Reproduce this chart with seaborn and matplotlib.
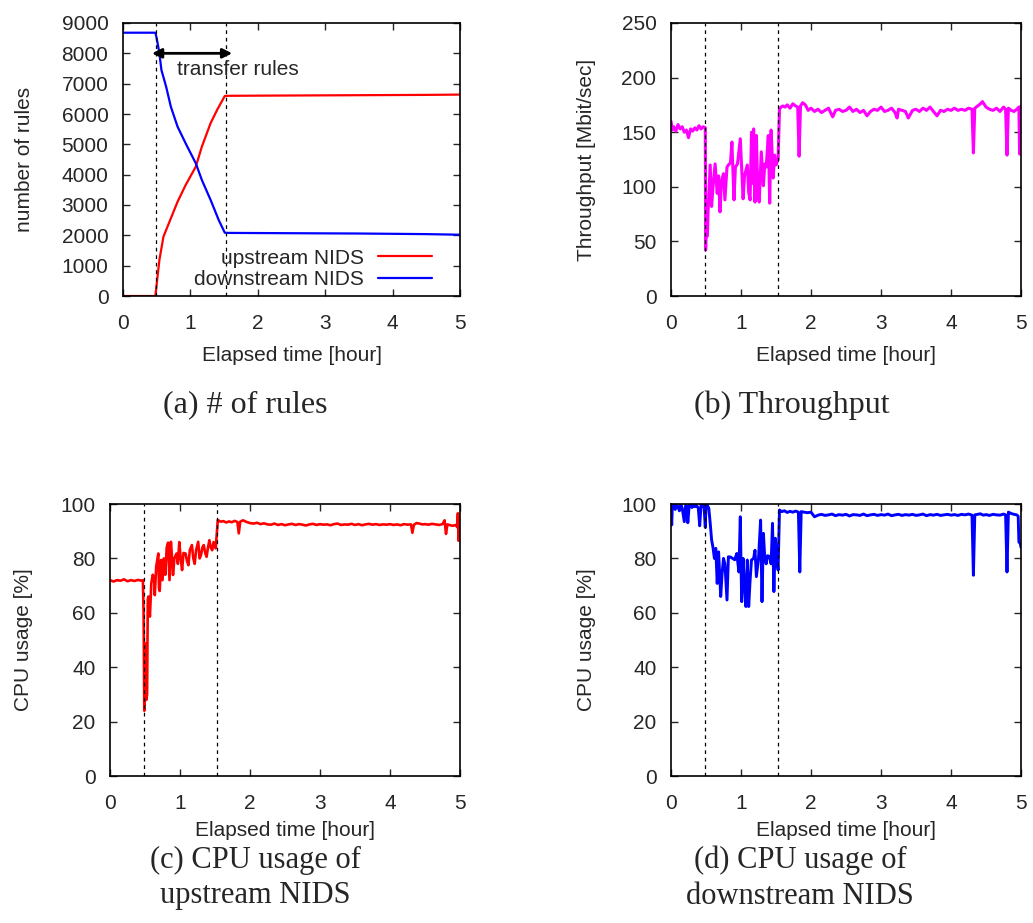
import numpy as np
import pandas as pd
import matplotlib
matplotlib.use('Agg')
import matplotlib.pyplot as plt
import seaborn as sns

# (a) number of rules
up_t = [0, 0.48, 0.54, 0.60, 0.70, 0.81, 0.93, 1.08, 1.17, 1.30, 1.40, 1.51, 1.55, 2.5, 3.5, 4.5, 5.0]
up_rules = [0, 0, 1187, 1955, 2505, 3110, 3660, 4263, 4923, 5700, 6150, 6593, 6600, 6610, 6620, 6630, 6640]
down_t = [0, 0.48, 0.50, 0.54, 0.57, 0.64, 0.71, 0.81, 0.93, 1.08, 1.17, 1.30, 1.42, 1.51, 1.55, 2.5, 3.5, 4.5, 5.0]
down_rules = [8680, 8680, 8500, 8000, 7450, 6900, 6240, 5580, 5030, 4375, 3824, 3165, 2505, 2087, 2080, 2070, 2060, 2040, 2020]

# (b) throughput
thr_t = [0.00, 0.02, 0.04, 0.07, 0.10, 0.13, 0.16, 0.19, 0.22, 0.25, 0.28, 0.31, 0.34, 0.37, 0.40, 0.43, 0.46, 0.49,
         0.495, 0.505, 0.52, 0.53, 0.56, 0.58, 0.60, 0.63, 0.66, 0.68, 0.70, 0.72, 0.75, 0.77, 0.80, 0.82, 0.85, 0.87,
         0.90, 0.92, 0.95, 0.99, 1.03, 1.05, 1.09, 1.11, 1.13, 1.15, 1.17, 1.18, 1.20, 1.22, 1.24, 1.26, 1.29, 1.32,
         1.34, 1.36, 1.39, 1.41, 1.43, 1.46, 1.48, 1.50, 1.53, 1.55, 1.57,
         1.60, 1.63, 1.66, 1.70, 1.74, 1.78, 1.81, 1.83, 1.85, 1.88, 1.92, 1.96, 2.00, 2.05, 2.10, 2.15, 2.20, 2.25,
         2.31, 2.35, 2.40, 2.45, 2.50, 2.55, 2.60, 2.65, 2.70, 2.75, 2.80, 2.85, 2.90, 2.95, 3.00, 3.05, 3.10, 3.15,
         3.20, 3.23, 3.25, 3.30, 3.35, 3.39, 3.45, 3.50, 3.55, 3.60, 3.65, 3.70, 3.75, 3.80, 3.85, 3.90, 3.95, 4.00,
         4.05, 4.10, 4.15, 4.20, 4.25, 4.30, 4.32, 4.34, 4.38, 4.42, 4.45, 4.50, 4.55, 4.60, 4.65, 4.70, 4.75, 4.78,
         4.80, 4.82, 4.86, 4.90, 4.94, 4.97, 4.98, 4.99, 5.00]
thr = [160, 152, 155, 151, 157, 153, 155, 150, 152, 145, 153, 151, 154, 152, 156, 153, 155, 154,
       42, 70, 55, 78, 120, 82, 100, 121, 94, 110, 77, 105, 112, 88, 118, 120, 122, 141,
       88, 118, 121, 144, 89, 110, 120, 95, 88, 150, 103, 153, 86, 147, 95, 86, 132, 101,
       121, 118, 147, 85, 152, 108, 129, 120, 125, 171, 173,
       174, 173, 175, 172, 176, 174, 173, 128, 174, 177, 175, 170, 172, 169, 171, 168, 170, 172,
       164, 170, 171, 169, 170, 173, 169, 171, 168, 170, 165, 169, 171, 170, 173, 169, 170, 172,
       168, 163, 171, 170, 169, 163, 170, 171, 169, 172, 170, 173, 169, 165, 170, 169, 171, 170,
       172, 170, 171, 170, 172, 171, 131, 172, 174, 176, 178, 173, 171, 170, 172, 169, 173, 171,
       129, 172, 170, 169, 171, 173, 130, 168, 174]

# (c) CPU usage, upstream NIDS
cpu_up_t = [0.00, 0.05, 0.10, 0.15, 0.20, 0.25, 0.30, 0.35, 0.40, 0.45, 0.47,
            0.48, 0.49, 0.50, 0.51, 0.52, 0.53, 0.54, 0.55, 0.57, 0.59, 0.61, 0.63, 0.64, 0.66, 0.69, 0.70, 0.71,
            0.73, 0.75, 0.77, 0.79, 0.81, 0.83, 0.85, 0.87, 0.89, 0.90, 0.92, 0.95, 0.97, 0.99, 1.01, 1.03, 1.05,
            1.08, 1.10, 1.12, 1.14, 1.17, 1.19, 1.21, 1.23, 1.26, 1.28, 1.30, 1.32, 1.34, 1.36, 1.38, 1.40, 1.42,
            1.44, 1.46, 1.48, 1.51, 1.54,
            1.58, 1.62, 1.66, 1.70, 1.74, 1.78, 1.82, 1.84, 1.86, 1.90, 1.95, 2.00, 2.05, 2.10, 2.15, 2.20, 2.25,
            2.30, 2.35, 2.40, 2.45, 2.50, 2.55, 2.60, 2.65, 2.70, 2.75, 2.80, 2.85, 2.90, 2.95, 3.00, 3.05, 3.10,
            3.15, 3.20, 3.25, 3.30, 3.35, 3.40, 3.45, 3.50, 3.55, 3.60, 3.65, 3.70, 3.75, 3.80, 3.85, 3.90, 3.95,
            4.00, 4.05, 4.10, 4.15, 4.20, 4.25, 4.30, 4.32, 4.34, 4.38, 4.42, 4.46, 4.50, 4.55, 4.60, 4.65, 4.70,
            4.75, 4.78, 4.80, 4.82, 4.86, 4.90, 4.94, 4.96, 4.97, 4.98, 4.99, 5.00]
cpu_up = [72, 71.5, 72, 71.8, 72.3, 71.6, 72, 71.7, 72.1, 71.8, 72,
          60, 24, 40, 48.7, 28, 30, 65, 66, 58.6, 70.8, 74, 73, 66.5, 77, 81.8, 69, 68,
          79.4, 72, 80, 74, 84, 85.8, 72, 86.1, 79, 73.9, 80, 81.8, 78, 86, 80, 75.7, 82,
          81.8, 79, 77.5, 83, 84.9, 80, 78, 83, 86.1, 80, 81.2, 84, 84.9, 82, 80.6, 84, 86.7,
          84, 83, 86, 83.7, 94.1,
          93.5, 93.7, 93.2, 93.6, 93.3, 93.8, 93.4, 89.2, 93.5, 94, 93.4, 93, 92.8, 93.1, 92.6, 92.9, 92.5,
          92.4, 92.8, 92.3, 92.6, 92.2, 92.5, 92.7, 92.3, 92.6, 92.4, 92.1, 92.5, 92.7, 92.3, 92.6, 92.4, 92.5,
          92.2, 92.6, 92.8, 92.3, 92.5, 92.4, 92.7, 92.3, 92.6, 92.2, 92.5, 92.7, 92.4, 92.6, 92.3, 92.5, 92.4,
          92.6, 92.3, 92.5, 92.2, 92.6, 92.4, 92.5, 89.4, 92.3, 93.0, 92.8, 92.5, 92.6, 92.4, 92.7, 92.5, 92.3,
          92.6, 94, 89, 92.5, 92.2, 92.0, 92.3, 91.5, 96.6, 86.5, 95, 88]

# (d) CPU usage, downstream NIDS
cpu_down_t = [0.00, 0.01, 0.02, 0.04, 0.06, 0.08, 0.10, 0.12, 0.14, 0.16, 0.19, 0.21, 0.23, 0.24, 0.26, 0.28,
              0.30, 0.32, 0.34, 0.36, 0.39, 0.41, 0.43, 0.45, 0.47, 0.49, 0.50, 0.52, 0.54, 0.56, 0.58, 0.60,
              0.62, 0.64, 0.66, 0.68, 0.71, 0.73, 0.75, 0.77, 0.80, 0.82, 0.85, 0.88, 0.91, 0.94, 0.97, 0.99,
              1.00, 1.01, 1.03, 1.05, 1.07, 1.09, 1.11, 1.13, 1.15, 1.18, 1.20, 1.22, 1.25, 1.28, 1.30, 1.32,
              1.34, 1.36, 1.38, 1.41, 1.43, 1.45, 1.47, 1.49, 1.51, 1.53, 1.55,
              1.58, 1.62, 1.66, 1.70, 1.74, 1.78, 1.82, 1.84, 1.86, 1.90, 1.95, 2.00, 2.05, 2.10, 2.15, 2.20,
              2.25, 2.30, 2.35, 2.40, 2.45, 2.50, 2.55, 2.60, 2.65, 2.70, 2.75, 2.80, 2.85, 2.90, 2.95, 3.00,
              3.05, 3.10, 3.15, 3.20, 3.25, 3.30, 3.35, 3.40, 3.45, 3.50, 3.55, 3.60, 3.65, 3.70, 3.75, 3.80,
              3.85, 3.90, 3.95, 4.00, 4.05, 4.10, 4.15, 4.20, 4.25, 4.30, 4.32, 4.34, 4.38, 4.42, 4.46, 4.50,
              4.55, 4.60, 4.65, 4.70, 4.75, 4.78, 4.80, 4.82, 4.86, 4.90, 4.94, 4.96, 4.97, 4.99, 5.00]
cpu_down = [99.5, 92.3, 100, 99.2, 98, 99.6, 99, 97.5, 99.8, 98.5, 93.5, 99.6, 99, 93.1, 99.5, 100,
            98.7, 99.5, 99, 99.6, 98.5, 92, 100, 99.3, 99.8, 91.4, 100, 99.5, 98.4, 93, 86.8, 84,
            80, 83.7, 70.8, 82.4, 66, 74.5, 80, 78, 64.7, 80.6, 80.5, 80, 79.5, 81.8, 75, 95.3,
            78, 64.1, 80, 70, 62.3, 79.4, 62.3, 72, 79.4, 80, 83, 73.3, 80, 94.1, 64.1, 89.2,
            80, 78, 81, 80.6, 78, 92.9, 67.8, 87.4, 80, 75.7, 97.8,
            97.2, 97.5, 96.9, 97.3, 97, 97.4, 97, 75, 97.2, 97, 96.8, 97, 95.3, 95.9, 96.2, 95.8,
            96, 96.3, 95.7, 96.1, 95.9, 96.2, 95.6, 96.1, 96, 95.8, 96.3, 95.7, 96, 96.2, 95.8, 96.1,
            95.9, 96.3, 95.7, 96, 96.2, 95.8, 96.1, 95.9, 96.2, 95.8, 96, 96.3, 95.7, 96.1, 95.9, 96.2,
            95.8, 96, 96.2, 95.9, 96.1, 95.8, 96.2, 96, 96.3, 95.9, 73.8, 96, 96.2, 96.4, 95.9, 96.1,
            95.8, 96.2, 96, 95.9, 96.3, 96, 75, 97, 96.5, 96.2, 96, 95.5, 86, 85.5, 84]

phase_marks = [0.49, 1.53]
xticks = [0, 1, 2, 3, 4, 5]

sns.set_style('ticks')
plt.rcParams['font.family'] = ['Liberation Sans', 'DejaVu Sans']
plt.rcParams['font.size'] = 15

fig = plt.figure(figsize=(10.33, 9.23), dpi=100)
W, H = 1033, 923


def make_axes(left, top, right, bottom):
    return fig.add_axes([left / W, (H - bottom) / H, (right - left) / W, (bottom - top) / H])


def style(ax, ymax, ystep, ylabel, label_x, xlabelpad=9):
    ax.set_xlim(0, 5)
    ax.set_ylim(0, ymax)
    ax.set_xticks(xticks)
    ax.set_yticks(np.arange(0, ymax + 1, ystep))
    ax.tick_params(direction='in', top=True, right=True, length=5, width=1, labelsize=15)
    ax.tick_params(axis='x', pad=13)
    ax.tick_params(axis='y', pad=10.5)
    for s in ax.spines.values():
        s.set_linewidth(1.2)
        s.set_color('black')
    ax.set_xlabel('Elapsed time [hour]', fontsize=15, labelpad=xlabelpad)
    ax.set_ylabel(ylabel, fontsize=15)
    ax.yaxis.set_label_coords(label_x, 0.5)
    for x in phase_marks:
        ax.axvline(x, color='black', lw=0.9, ls=(0, (3, 3)))


ax_a = make_axes(123, 23, 460, 296)
ax_b = make_axes(671, 23, 1021, 296)
ax_c = make_axes(110, 504, 460, 776)
ax_d = make_axes(671, 504, 1021, 776)

df_up = pd.DataFrame({'t': up_t, 'v': up_rules})
df_down = pd.DataFrame({'t': down_t, 'v': down_rules})
sns.lineplot(data=df_up, x='t', y='v', ax=ax_a, color='#ff0000', lw=1.6, estimator=None, sort=False,
             label='upstream NIDS')
sns.lineplot(data=df_down, x='t', y='v', ax=ax_a, color='#0000ff', lw=1.6, estimator=None, sort=False,
             label='downstream NIDS')
style(ax_a, 9000, 1000, 'number of rules', -0.265)
ax_a.legend(loc='lower right', frameon=False, markerfirst=False, fontsize=15, handlelength=2.6,
            handletextpad=0.7, labelspacing=0.12, borderaxespad=0.0, borderpad=0.0,
            bbox_to_anchor=(0.918, 0.025))
ax_a.annotate('', xy=(1.62, 8000), xytext=(0.43, 8000),
              arrowprops=dict(arrowstyle='<|-|>', color='black', lw=2, mutation_scale=14,
                              shrinkA=0, shrinkB=0))
ax_a.text(0.8, 7470, 'transfer rules', fontsize=15, ha='left', va='center')

sns.lineplot(x=thr_t, y=thr, ax=ax_b, color='#ff00ff', lw=2.2, estimator=None, sort=False)
style(ax_b, 250, 50, 'Throughput [Mbit/sec]', -0.215)

sns.lineplot(x=cpu_up_t, y=cpu_up, ax=ax_c, color='#ff0000', lw=1.9, estimator=None, sort=False)
style(ax_c, 100, 20, 'CPU usage [%]', -0.22, xlabelpad=6)

sns.lineplot(x=cpu_down_t, y=cpu_down, ax=ax_d, color='#0000ff', lw=2.1, estimator=None, sort=False)
style(ax_d, 100, 20, 'CPU usage [%]', -0.215, xlabelpad=6)

serif = ['Liberation Serif', 'DejaVu Serif']
fig.text(245 / W, 1 - 405 / H, '(a) # of rules', family=serif, fontsize=23, ha='center', va='center')
fig.text(792 / W, 1 - 405 / H, '(b) Throughput', family=serif, fontsize=23, ha='center', va='center')
fig.text(255 / W, 1 - 878 / H, '(c) CPU usage of\nupstream NIDS', family=serif, fontsize=22,
         ha='center', va='center', linespacing=1.3)
fig.text(800 / W, 1 - 878 / H, '(d) CPU usage of\ndownstream NIDS', family=serif, fontsize=22,
         ha='center', va='center', linespacing=1.3)

fig.savefig('out.png', dpi=100)
